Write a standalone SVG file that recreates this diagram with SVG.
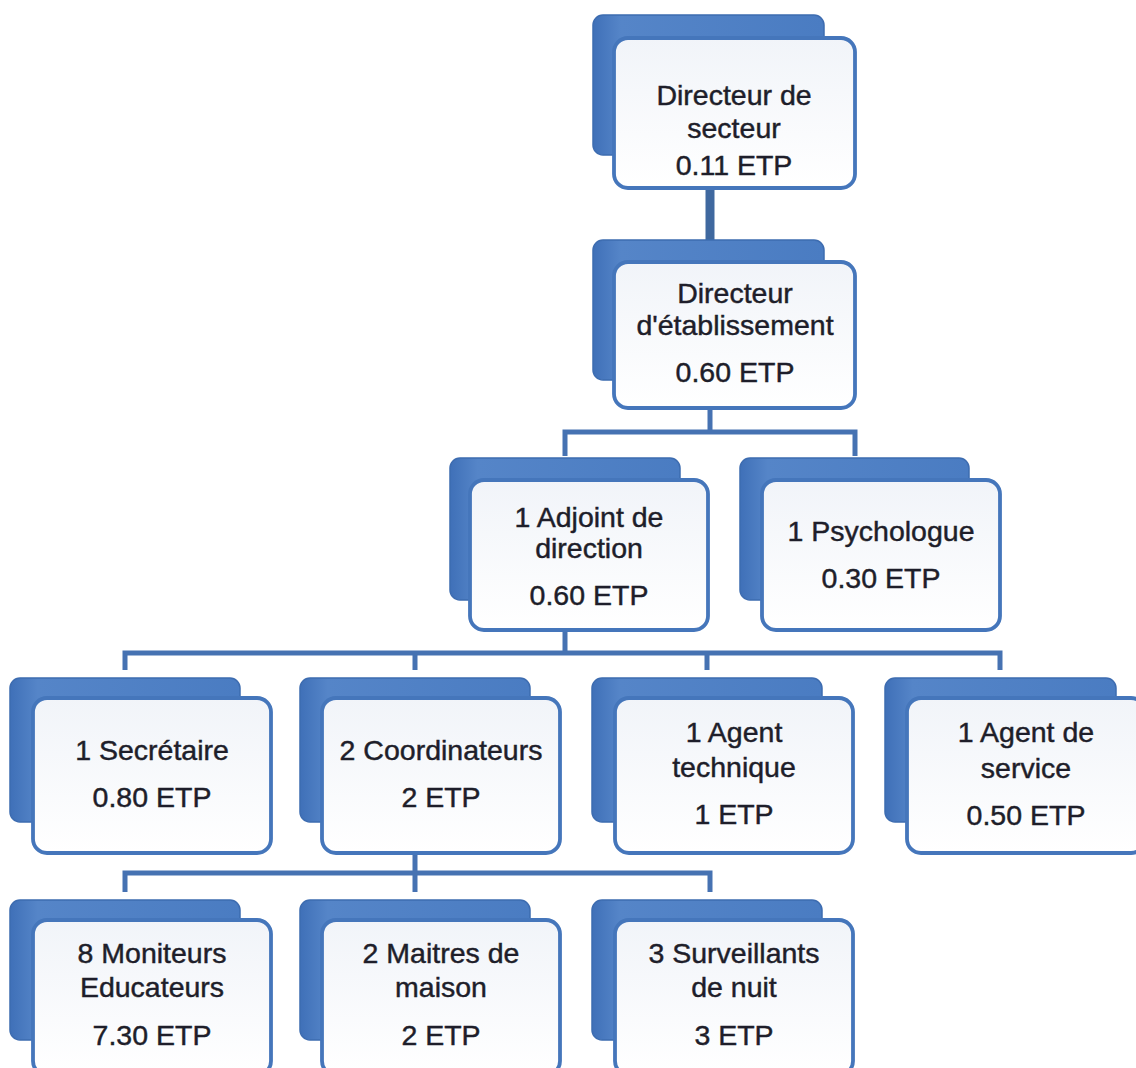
<svg xmlns="http://www.w3.org/2000/svg" width="1136" height="1068" viewBox="0 0 1136 1068">
<defs>
<linearGradient id="gb" x1="0" y1="0" x2="1" y2="0">
<stop offset="0" stop-color="#3f70b8"/>
<stop offset="0.12" stop-color="#5585c8"/>
<stop offset="1" stop-color="#4a7cc2"/>
</linearGradient>
<linearGradient id="gf" x1="0" y1="0" x2="0" y2="1">
<stop offset="0" stop-color="#f1f4f9"/>
<stop offset="1" stop-color="#ffffff"/>
</linearGradient>
<style>
.back{fill:url(#gb);stroke:#3d6cb0;stroke-width:1.5}
.front{fill:url(#gf);stroke:#4576bb;stroke-width:3.8}
.conn{fill:none;stroke:#4672b2;stroke-width:5}
.t{font-family:"Liberation Sans",Arial,sans-serif;font-size:28.5px;fill:#1e1e2a;stroke:#1e1e2a;stroke-width:0.45;text-anchor:middle}
</style>
</defs>
<rect width="1136" height="1068" fill="#ffffff"/>
<g id="connectors">
<path class="conn" d="M710 188 V240" style="stroke-width:9;stroke:#3f689f"/>
<path class="conn" d="M710 408 V432 M565 456 V432 H855 V456"/>
<path class="conn" d="M565 630 V653 M125 670 V653 H1000 V670 M415 653 V670 M707 653 V670"/>
<path class="conn" d="M415 853 V892 M125 892 V873 H710 V892"/>
</g>
<g id="n-directeur-secteur">
<rect class="back" x="593" y="15" width="231" height="140" rx="10"/>
<rect class="front" x="614" y="38" width="241" height="150" rx="14"/>
<text class="t" x="734" y="105">Directeur de</text>
<text class="t" x="734" y="138">secteur</text>
<text class="t" x="734" y="175">0.11 ETP</text>
</g>
<g id="n-directeur-etablissement">
<rect class="back" x="593" y="240" width="231" height="140" rx="10"/>
<rect class="front" x="614" y="262" width="241" height="146" rx="14"/>
<text class="t" x="735" y="303">Directeur</text>
<text class="t" x="735" y="335">d'établissement</text>
<text class="t" x="735" y="382">0.60 ETP</text>
</g>
<g id="n-adjoint">
<rect class="back" x="450" y="458" width="230" height="142" rx="10"/>
<rect class="front" x="470" y="480" width="238" height="150" rx="14"/>
<text class="t" x="589" y="527">1 Adjoint de</text>
<text class="t" x="589" y="558">direction</text>
<text class="t" x="589" y="605">0.60 ETP</text>
</g>
<g id="n-psychologue">
<rect class="back" x="740" y="458" width="229" height="142" rx="10"/>
<rect class="front" x="762" y="480" width="238" height="150" rx="14"/>
<text class="t" x="881" y="541">1 Psychologue</text>
<text class="t" x="881" y="588">0.30 ETP</text>
</g>
<g id="n-secretaire">
<rect class="back" x="10" y="678" width="230" height="144" rx="10"/>
<rect class="front" x="33" y="698" width="238" height="155" rx="14"/>
<text class="t" x="152" y="760">1 Secrétaire</text>
<text class="t" x="152" y="807">0.80 ETP</text>
</g>
<g id="n-coordinateurs">
<rect class="back" x="300" y="678" width="230" height="144" rx="10"/>
<rect class="front" x="322" y="698" width="238" height="155" rx="14"/>
<text class="t" x="441" y="760">2 Coordinateurs</text>
<text class="t" x="441" y="807">2 ETP</text>
</g>
<g id="n-agent-technique">
<rect class="back" x="592" y="678" width="230" height="144" rx="10"/>
<rect class="front" x="615" y="698" width="238" height="155" rx="14"/>
<text class="t" x="734" y="742">1 Agent</text>
<text class="t" x="734" y="777">technique</text>
<text class="t" x="734" y="824">1 ETP</text>
</g>
<g id="n-agent-service">
<rect class="back" x="885" y="678" width="231" height="144" rx="10"/>
<rect class="front" x="907" y="698" width="238" height="155" rx="14"/>
<text class="t" x="1026" y="742">1 Agent de</text>
<text class="t" x="1026" y="778">service</text>
<text class="t" x="1026" y="825">0.50 ETP</text>
</g>
<g id="n-moniteurs">
<rect class="back" x="10" y="900" width="230" height="140" rx="10"/>
<rect class="front" x="33" y="920" width="238" height="155" rx="14"/>
<text class="t" x="152" y="963">8 Moniteurs</text>
<text class="t" x="152" y="997">Educateurs</text>
<text class="t" x="152" y="1045">7.30 ETP</text>
</g>
<g id="n-maitres">
<rect class="back" x="300" y="900" width="230" height="140" rx="10"/>
<rect class="front" x="322" y="920" width="238" height="155" rx="14"/>
<text class="t" x="441" y="963">2 Maitres de</text>
<text class="t" x="441" y="997">maison</text>
<text class="t" x="441" y="1045">2 ETP</text>
</g>
<g id="n-surveillants">
<rect class="back" x="592" y="900" width="230" height="140" rx="10"/>
<rect class="front" x="615" y="920" width="238" height="155" rx="14"/>
<text class="t" x="734" y="963">3 Surveillants</text>
<text class="t" x="734" y="997">de nuit</text>
<text class="t" x="734" y="1045">3 ETP</text>
</g>
</svg>
